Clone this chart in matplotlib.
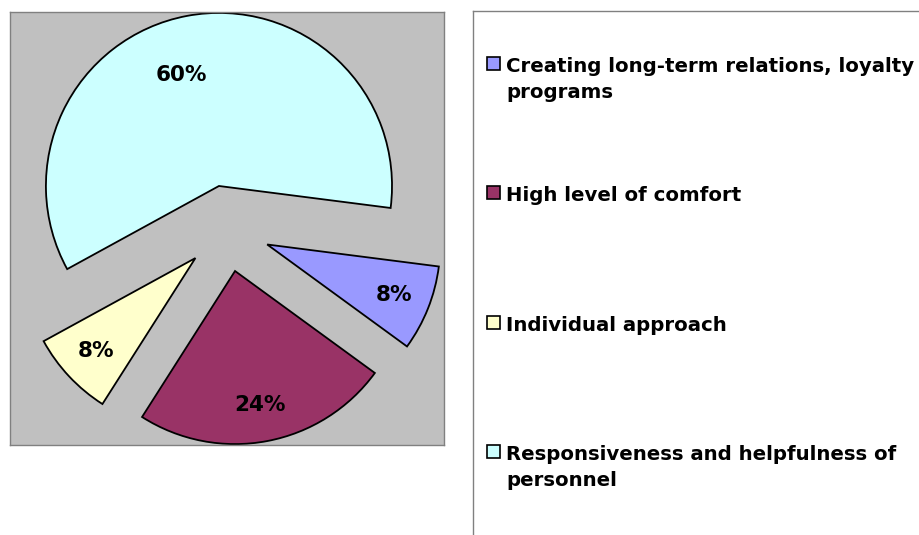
import matplotlib
matplotlib.use("Agg")
import matplotlib.pyplot as plt
from matplotlib.patches import Rectangle
import numpy as np

categories = ["Creating long-term relations, loyalty\nprograms",
              "High level of comfort",
              "Individual approach",
              "Responsiveness and helpfulness of\npersonnel"]
values = [8, 24, 8, 60]
colors = ["#9999FF", "#993366", "#FFFFCC", "#CCFFFF"]

plt.rcParams['font.family'] = ['DejaVu Sans']

W, H = 920, 535
fig = plt.figure(figsize=(W / 100, H / 100), dpi=100)

# plot area
ax = fig.add_axes([10 / W, 1 - 445 / H, 434 / W, 433 / H])
wedges, texts, autotexts = ax.pie(
    values, colors=colors, startangle=-7.3, counterclock=False,
    explode=[0.25] * len(values), radius=1,
    autopct=lambda p: f"{p:.0f}%", pctdistance=0.79, frame=True,
    wedgeprops=dict(edgecolor="black", linewidth=1.3),
    textprops=dict(fontsize=15.5, fontweight="bold", color="black"))
ax.set_aspect("auto")
ax.set_xlim(-1.254, 1.254)
ax.set_ylim(-1.251, 1.251)
ax.set_xticks([])
ax.set_yticks([])
ax.set_facecolor("#C0C0C0")
for s in ax.spines.values():
    s.set_color("#808080")
    s.set_linewidth(1.0)

# reposition the big slice label slightly (as in reference)
w = wedges[3]
mid = np.deg2rad((w.theta1 + w.theta2) / 2 + 8)
cx, cy = w.center
autotexts[3].set_position((cx + 0.68 * np.cos(mid), cy + 0.68 * np.sin(mid)))

# legend box
lax = fig.add_axes([473 / W, -10 / H, (930 - 473) / W, 534 / H])
lax.set_xlim(473, 930)
lax.set_ylim(545, 11)
lax.set_xticks([])
lax.set_yticks([])
lax.set_facecolor("white")
for k, s in lax.spines.items():
    if k in ("left", "top"):
        s.set_color("#808080")
        s.set_linewidth(1.0)
    else:
        s.set_visible(False)

for i, (lab, col) in enumerate(zip(categories, colors)):
    base = 72 + i * 129.3
    lax.add_patch(Rectangle((487, base - 15), 13, 13, facecolor=col,
                            edgecolor="black", linewidth=1.2, clip_on=False))
    for j, line in enumerate(lab.split("\n")):
        lax.text(506, base + j * 26, line, fontsize=14.2, fontweight="bold",
                 va="baseline", ha="left", color="black", clip_on=False)

fig.savefig("out.png", dpi=100)
